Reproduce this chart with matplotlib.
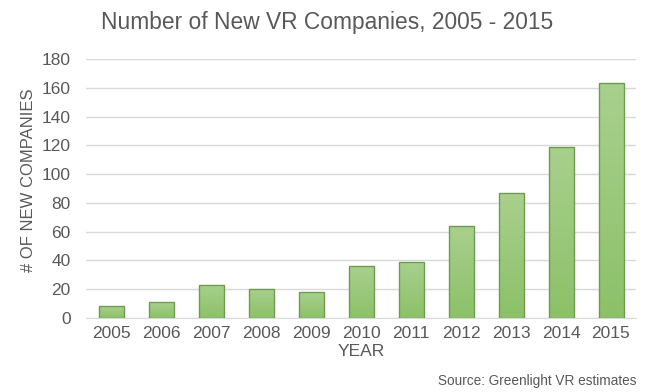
import matplotlib
matplotlib.use("Agg")
import matplotlib.pyplot as plt
import numpy as np
from matplotlib.colors import LinearSegmentedColormap

years = ["2005", "2006", "2007", "2008", "2009", "2010", "2011", "2012", "2013", "2014", "2015"]
companies = [8, 11, 23, 20, 18, 36, 39, 64, 87, 119, 163]
y_ticks = [0, 20, 40, 60, 80, 100, 120, 140, 160, 180]

plt.rcParams['font.family'] = ['Liberation Sans', 'DejaVu Sans']
fig = plt.figure(figsize=(6.54, 3.92), dpi=100)
ax = fig.add_axes([86/654, 74/392, 550/654, 259/392])

x = np.arange(len(years))
bars = ax.bar(x, companies, width=0.5, color='none', edgecolor='#6e9c4f', linewidth=1.0, zorder=3)
cmap = LinearSegmentedColormap.from_list('g', ['#8cc168', '#a9d08e'])
grad = np.linspace(0, 1, 256).reshape(-1, 1)
for b in bars:
    x0, y0 = b.get_x(), b.get_y()
    w, h = b.get_width(), b.get_height()
    im = ax.imshow(grad, extent=[x0, x0 + w, y0, y0 + h], origin='lower', cmap=cmap,
                   aspect='auto', zorder=2)
    im.set_clip_path(b)

ax.set_xlim(-0.5, len(years) - 0.5)
ax.set_ylim(0, 180)
ax.set_yticks(y_ticks)
ax.set_xticks(x)
ax.set_xticklabels(years)
ax.yaxis.grid(True, color='#d9d9d9', linewidth=1.0, zorder=0)
ax.set_axisbelow(True)
for s in ['top', 'right', 'left']:
    ax.spines[s].set_visible(False)
ax.spines['bottom'].set_color('#d9d9d9')
ax.tick_params(axis='both', length=0, labelsize=12.5, colors='#595959')
ax.tick_params(axis='x', pad=6)
ax.tick_params(axis='y', pad=11)
ax.set_xlabel('YEAR', fontsize=12.5, color='#595959', labelpad=2)

fig.text(29/654, 1 - 180/392, '# OF NEW COMPANIES', rotation=90, ha='center', va='center',
         fontsize=12, color='#595959')
fig.text(327/654, 1 - 22/392, 'Number of New VR Companies, 2005 - 2015', ha='center', va='center',
         fontsize=16.4, color='#595959')
fig.text(637/654, 1 - 381/392, 'Source: Greenlight VR estimates', ha='right', va='center',
         fontsize=9.8, color='#595959')

fig.savefig('out.png', dpi=100)
